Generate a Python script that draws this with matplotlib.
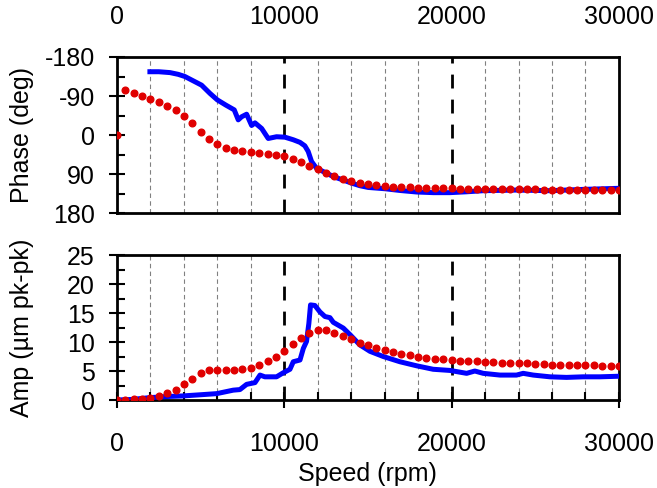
import matplotlib
matplotlib.use("Agg")
import matplotlib.pyplot as plt
import numpy as np

plt.rcParams['font.family'] = ['Liberation Sans', 'DejaVu Sans']
plt.rcParams['axes.unicode_minus'] = False

# ! red dotted series, every 500 rpm
red_speed = np.arange(0, 30001, 500)
red_phase = [0, -105, -98, -91, -83, -76, -68, -58, -45, -28,
             -8, 10, 21, 29, 35, 37, 40, 41, 43, 45,
             49, 55, 62, 71, 79, 88, 95, 101, 107, 111,
             114, 116, 118, 119, 120, 121, 121.5, 122, 122.5, 123,
             123, 123.5, 123.5, 124, 124, 124.5, 124.5, 125, 125, 125.5,
             125.5, 126, 126, 126, 126.5, 126.5, 126.5, 127, 127, 127, 127]
red_amp = [0, 0, 0.1, 0.2, 0.4, 0.7, 1.2, 1.8, 2.7, 3.7,
           4.6, 5.1, 5.1, 5.1, 5.2, 5.3, 5.6, 6.0, 6.7, 7.5,
           8.4, 9.6, 10.7, 11.5, 12.0, 12.0, 11.6, 11.1, 10.5, 9.9,
           9.4, 9.0, 8.6, 8.3, 8.0, 7.8, 7.5, 7.3, 7.1, 7.0,
           6.9, 6.8, 6.7, 6.7, 6.6, 6.55, 6.4, 6.4, 6.3, 6.3,
           6.2, 6.15, 6.1, 6.1, 6.0, 6.0, 6.0, 6.0, 5.9, 5.9, 5.9]

# ! blue line, phase
blue_phase_speed = [1970, 2500, 3170, 3660, 4060, 4560, 5060, 5560, 6000, 6510,
                    7010, 7250, 7450, 7750, 8050, 8250, 8650, 9040, 9540, 10040,
                    10540, 10940, 11230, 11430, 11630, 11930, 12530, 12930, 13530, 14020,
                    14520, 15020, 16020, 16920, 17910, 18910, 19900, 20900, 21900, 23890,
                    25880, 27870, 30000]
blue_phase = [-146, -146, -144, -140, -135, -125, -115, -96, -81, -69,
              -58, -35, -42, -48, -22, -28, -15, 8, 4, 5,
              11, 17, 25, 38, 61, 77, 88, 96, 104, 111,
              117, 121, 124, 128, 131.5, 133, 133, 131, 128.5, 127,
              128.5, 125.5, 123]

# ! blue line, amplitude
blue_amp_speed = [0, 920, 1930, 2930, 3920, 4960, 5960, 6950, 7350, 7750,
                  8250, 8550, 8840, 9540, 9940, 10340, 10540, 10940, 11140, 11330,
                  11470, 11570, 11830, 12130, 12430, 12730, 12930, 13230, 13530, 13920,
                  14520, 15120, 15920, 16910, 17910, 18900, 19900, 20900, 21390, 21890,
                  22890, 23880, 24280, 24880, 25880, 26870, 27870, 28860, 30000]
blue_amp = [0, 0.1, 0.4, 0.6, 0.7, 0.9, 1.1, 1.7, 1.8, 2.7,
            3.0, 4.3, 4.0, 4.0, 4.7, 5.3, 6.6, 6.9, 8.9, 10.1,
            13.2, 16.4, 16.3, 15.2, 14.4, 14.2, 13.4, 12.9, 12.4, 11.3,
            9.5, 8.4, 7.5, 6.6, 5.9, 5.3, 5.1, 4.6, 5.0, 4.6,
            4.3, 4.3, 4.6, 4.3, 4.0, 3.9, 4.0, 4.0, 4.1]

fs = 18

fig = plt.figure(figsize=(6.57, 4.88), dpi=100)
ax1 = fig.add_axes([0.178, 0.5635, 0.764, 0.3197])
ax2 = fig.add_axes([0.178, 0.1803, 0.764, 0.2971])

minor_x = [x for x in range(2000, 30000, 2000) if x % 10000 != 0]

for ax in (ax1, ax2):
    ax.set_xlim(0, 30000)
    ax.set_xticks([0, 10000, 20000, 30000])
    ax.set_xticks(minor_x, minor=True)
    for x in minor_x:
        ax.axvline(x, color='gray', lw=0.8, ls=(0, (4, 3)), zorder=1)
    for x in (10000, 20000):
        ax.axvline(x, color='black', lw=2, ls=(0, (5, 4)), zorder=1)
    for s in ax.spines.values():
        s.set_linewidth(2)
    ax.tick_params(axis='both', which='major', direction='inout', length=12, width=1.5, labelsize=fs)
    ax.tick_params(axis='both', which='minor', direction='in', length=6, width=1.5)
    ax.tick_params(axis='y', which='major', pad=10)

# ! Phase plot
ax1.plot(blue_phase_speed, blue_phase, color='blue', lw=3.6, zorder=3)
ax1.plot(red_speed, red_phase, 'o', color='#e00000', ms=4.8, zorder=4)
ax1.set_ylim(180, -180)
ax1.set_yticks([-180, -90, 0, 90, 180])
ax1.set_yticks([-135, -45, 45, 135], minor=True)
ax1.xaxis.tick_top()
ax1.tick_params(axis='x', which='both', length=0, pad=20)
ax1.set_ylabel('Phase (deg)', fontsize=fs)
ax1.yaxis.set_label_coords(-0.165, 0.5)

# ! Amplitude plot
ax2.plot(blue_amp_speed, blue_amp, color='blue', lw=3.6, zorder=3)
ax2.plot(red_speed, red_amp, 'o', color='#e00000', ms=4.8, zorder=4)
ax2.set_ylim(0, 25)
ax2.set_yticks([0, 5, 10, 15, 20, 25])
ax2.set_yticks(np.arange(2.5, 25, 5), minor=True)
ax2.tick_params(axis='x', which='major', pad=17)
ax2.set_ylabel('Amp (\u00b5m pk-pk)', fontsize=fs)
ax2.yaxis.set_label_coords(-0.165, 0.5)
ax2.set_xlabel('Speed (rpm)', fontsize=fs)
ax2.xaxis.set_label_coords(0.5, -0.43)

plt.savefig('out.png', dpi=100)
